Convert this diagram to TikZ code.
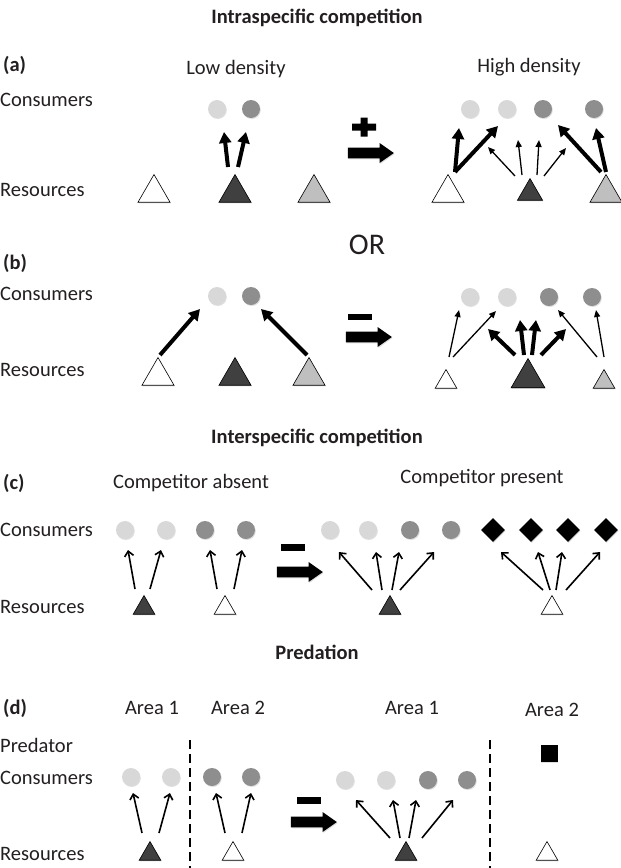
\documentclass[tikz,border=0pt]{standalone}
\usepackage{fontspec}
\setmainfont{Carlito}
\usetikzlibrary{arrows.meta,calc,shapes.geometric,shapes.arrows,shadows}
\definecolor{ink}{RGB}{35,31,32}
\definecolor{lgrey}{RGB}{216,216,216}
\definecolor{dgrey}{RGB}{142,142,142}
\definecolor{dtri}{RGB}{64,64,64}
\definecolor{gtri}{RGB}{191,191,191}

\begin{document}
\begin{tikzpicture}[x=1pt,y=-1pt,
  lbl/.style={font=\fontsize{20.5}{24}\selectfont,text=ink,inner sep=0pt},
  ttl/.style={font=\fontsize{20.5}{24}\selectfont\bfseries,text=ink,inner sep=0pt},
  shade/.style={drop shadow={shadow xshift=0.8pt,shadow yshift=-1pt,opacity=0.25}},
  cons/.style={circle,minimum size=18pt,inner sep=0pt,shade},
  lo/.style={cons,fill=lgrey},
  hi/.style={cons,fill=dgrey},
  res/.style={regular polygon,regular polygon sides=3,inner sep=0pt,draw=black,line width=0.6pt,shade},
  wt/.style={res,fill=white},
  kt/.style={res,fill=dtri},
  gt/.style={res,fill=gtri},
  comp/.style={diamond,aspect=1,minimum width=24pt,minimum height=24pt,inner sep=0pt,fill=black,shade},
  pred/.style={rectangle,minimum size=17pt,inner sep=0pt,fill=black,shade},
  go/.style={single arrow,fill=black,minimum height=46pt,minimum width=20pt,inner sep=5pt,single arrow tip angle=70,single arrow head extend=4.5pt,shade},
  fat/.style={line width=4pt,-{Triangle[length=11pt,width=12pt]}},
  thin/.style={line width=1.3pt,-{Triangle[length=7pt,width=6pt]}},
  mid/.style={line width=1.6pt,-{Straight Barb[length=5pt,width=9pt]}},
  sep/.style={line width=1.8pt,dash pattern=on 9pt off 5pt}]
\useasboundingbox (0,0) rectangle (621,868);

\node[ttl] (tIntra) at (317,18) {Intraspecific competition};
\node[ttl,anchor=west] (aLab) at (3,65) {(a)};
\node[lbl] (aLow) at (236,69) {Low density};
\node[lbl] (aHigh) at (529,67) {High density};
\node[lbl,anchor=west] (aCons) at (0,100) {Consumers};
\node[lbl,anchor=west] (aRes) at (0,190) {Resources};
\node[lo] (aC1) at (217,109) {};
\node[hi] (aC2) at (251,109) {};
\node[wt,minimum size=37pt] (aT1) at (154,193) {};
\node[kt,minimum size=37pt] (aT2) at (235,193) {};
\node[gt,minimum size=37pt] (aT3) at (314,193) {};
\draw[fat] ($(aT2)+(-7,-26)$) -- ($(aC1)+(7,23)$);
\draw[fat] ($(aT2)+(3,-26)$) -- ($(aC2)+(-5,23)$);
\fill[black] (364,127) +(-12,-3.5) rectangle +(12,3.5) +(-3.5,-9.5) rectangle +(3.5,9.5);
\node[go] (aGo) at (367,153) {};
\node[lo] (aD1) at (470,109) {};
\node[lo] (aD2) at (507,109) {};
\node[hi] (aD3) at (543,109) {};
\node[hi] (aD4) at (594,109) {};
\node[wt,minimum size=37pt] (aU1) at (448,193) {};
\node[kt,minimum size=29pt] (aU2) at (530,193) {};
\node[gt,minimum size=37pt] (aU3) at (606,193) {};
\draw[fat] ($(aU1)+(7,-21)$) -- ($(aD1)+(-11,19)$);
\draw[fat] ($(aU1)+(7,-21)$) -- ($(aD2)+(-9,17)$);
\draw[thin] ($(aU2)+(-15,-17)$) -- ($(aD2)+(-19,38)$);
\draw[thin] ($(aU2)+(-8,-18)$) -- ($(aD2)+(11,31)$);
\draw[thin] ($(aU2)+(7,-18)$) -- ($(aD3)+(-4,31)$);
\draw[thin] ($(aU2)+(14,-17)$) -- ($(aD3)+(23,39)$);
\draw[fat] ($(aU3)+(-5,-21)$) -- ($(aD3)+(15,16)$);
\draw[fat] ($(aU3)+(0,-21)$) -- ($(aD4)+(2,19)$);

\node[lbl,font=\fontsize{30}{33}\selectfont] (orLab) at (367,245) {OR};
\node[ttl,anchor=west] (bLab) at (3,263) {(b)};
\node[lbl,anchor=west] (bCons) at (0,294) {Consumers};
\node[lbl,anchor=west] (bRes) at (0,370) {Resources};
\node[lo] (bC1) at (217,296) {};
\node[hi] (bC2) at (251,296) {};
\node[wt,minimum size=37pt] (bT1) at (158,376) {};
\node[kt,minimum size=37pt] (bT2) at (235,376) {};
\node[gt,minimum size=37pt] (bT3) at (309,376) {};
\draw[fat] ($(bT1)+(2,-21)$) -- ($(bC1)+(-17,13)$);
\draw[fat] ($(bT3)+(-2,-21)$) -- ($(bC2)+(10,13)$);
\fill[black] (360,317) +(-12,-3) rectangle +(12,3);
\node[go] (bGo) at (365,337) {};
\node[lo] (bD1) at (470,297) {};
\node[lo] (bD2) at (507,297) {};
\node[hi] (bD3) at (549,297) {};
\node[hi] (bD4) at (592,297) {};
\node[wt,minimum size=25pt] (bU1) at (446,382) {};
\node[kt,minimum size=39pt] (bU2) at (528,378) {};
\node[gt,minimum size=25pt] (bU3) at (604,382) {};
\draw[thin] ($(bU1)+(3,-25)$) -- ($(bD1)+(-11,13)$);
\draw[thin] ($(bU1)+(7,-25)$) -- ($(bD2)+(-11,14)$);
\draw[fat] ($(bU2)+(-13,-23)$) -- ($(bD2)+(-19,32)$);
\draw[fat] ($(bU2)+(-4,-23)$) -- ($(bD2)+(13,23)$);
\draw[fat] ($(bU2)+(4,-23)$) -- ($(bD3)+(-13,23)$);
\draw[fat] ($(bU2)+(13,-23)$) -- ($(bD3)+(17,32)$);
\draw[thin] ($(bU3)+(-7,-25)$) -- ($(bD3)+(9,13)$);
\draw[thin] ($(bU3)+(0,-25)$) -- ($(bD4)+(4,13)$);

\node[ttl] (tInter) at (317,438) {Interspecific competition};
\node[ttl,anchor=west] (cLab) at (3,483) {(c)};
\node[lbl] (cAbs) at (191,483) {Competitor absent};
\node[lbl] (cPre) at (482,478) {Competitor present};
\node[lbl,anchor=west] (cCons) at (0,530) {Consumers};
\node[lbl,anchor=west] (cRes) at (0,607) {Resources};
\node[lo] (cC1) at (125,530) {};
\node[lo] (cC2) at (166,530) {};
\node[hi] (cC3) at (205,530) {};
\node[hi] (cC4) at (246,530) {};
\node[kt,minimum size=25pt] (cT1) at (144,608) {};
\node[wt,minimum size=25pt] (cT2) at (225,608) {};
\draw[mid] ($(cT1)+(-9,-19)$) -- ($(cC1)+(3,20)$);
\draw[mid] ($(cT1)+(6,-19)$) -- ($(cC2)+(-5,20)$);
\draw[mid] ($(cT2)+(-8,-19)$) -- ($(cC3)+(5,20)$);
\draw[mid] ($(cT2)+(9,-19)$) -- ($(cC4)+(-4,20)$);
\fill[black] (293,547) +(-12,-3.5) rectangle +(12,3.5);
\node[go] (cGo) at (296,572) {};
\node[lo] (cD1) at (330,530) {};
\node[lo] (cD2) at (368,530) {};
\node[hi] (cD3) at (410,530) {};
\node[hi] (cD4) at (451,530) {};
\node[kt,minimum size=25pt] (cU1) at (390,608) {};
\draw[mid] ($(cU1)+(-18,-18)$) -- ($(cD1)+(9,22)$);
\draw[mid] ($(cU1)+(-8,-18)$) -- ($(cD2)+(8,22)$);
\draw[mid] ($(cU1)+(2,-18)$) -- ($(cD3)+(-11,22)$);
\draw[mid] ($(cU1)+(10,-18)$) -- ($(cD4)+(-17,22)$);
\node[comp] (cK1) at (493,530) {};
\node[comp] (cK2) at (531,530) {};
\node[comp] (cK3) at (568,530) {};
\node[comp] (cK4) at (606,530) {};
\node[wt,minimum size=25pt] (cU2) at (552,608) {};
\draw[mid] ($(cU2)+(-9,-18)$) -- ($(cK1)+(8,22)$);
\draw[mid] ($(cU2)+(-2,-18)$) -- ($(cK2)+(7,22)$);
\draw[mid] ($(cU2)+(4,-18)$) -- ($(cK3)+(-6,22)$);
\draw[mid] ($(cU2)+(14,-18)$) -- ($(cK4)+(-6,22)$);

\node[ttl] (tPred) at (317,652) {Predation};
\node[ttl,anchor=west] (dLab) at (3,708) {(d)};
\node[lbl] (dA1) at (152,708) {Area 1};
\node[lbl] (dA2) at (238,708) {Area 2};
\node[lbl] (dB1) at (412,708) {Area 1};
\node[lbl] (dB2) at (552,710) {Area 2};
\node[lbl,anchor=west] (dPred) at (0,745) {Predator};
\node[lbl,anchor=west] (dCons) at (0,778) {Consumers};
\node[lbl,anchor=west] (dRes) at (0,854) {Resources};
\draw[sep] (190,740) -- (190,868);
\draw[sep] (490,740) -- (490,868);
\node[lo] (dC1) at (131,777) {};
\node[lo] (dC2) at (171,777) {};
\node[hi] (dC3) at (212,777) {};
\node[hi] (dC4) at (251,777) {};
\node[kt,minimum size=25pt] (dT1) at (150,854) {};
\node[wt,minimum size=25pt] (dT2) at (233,854) {};
\draw[mid] ($(dT1)+(-8,-21)$) -- ($(dC1)+(2,16)$);
\draw[mid] ($(dT1)+(9,-21)$) -- ($(dC2)+(-1,16)$);
\draw[mid] ($(dT2)+(-8,-21)$) -- ($(dC3)+(4,16)$);
\draw[mid] ($(dT2)+(9,-21)$) -- ($(dC4)+(0,16)$);
\fill[black] (309,800) +(-12,-3.5) rectangle +(12,3.5);
\node[go] (dGo) at (310,822) {};
\node[lo] (dD1) at (345,780) {};
\node[lo] (dD2) at (386,780) {};
\node[hi] (dD3) at (428,780) {};
\node[hi] (dD4) at (467,780) {};
\node[kt,minimum size=25pt] (dU1) at (406,854) {};
\draw[mid] ($(dU1)+(-16,-16)$) -- ($(dD1)+(11,20)$);
\draw[mid] ($(dU1)+(-6,-16)$) -- ($(dD2)+(7,20)$);
\draw[mid] ($(dU1)+(3,-16)$) -- ($(dD3)+(-12,20)$);
\draw[mid] ($(dU1)+(16,-16)$) -- ($(dD4)+(-14,20)$);
\node[pred] (dP) at (549,753) {};
\node[wt,minimum size=25pt] (dU2) at (547,854) {};
\end{tikzpicture}
\end{document}
